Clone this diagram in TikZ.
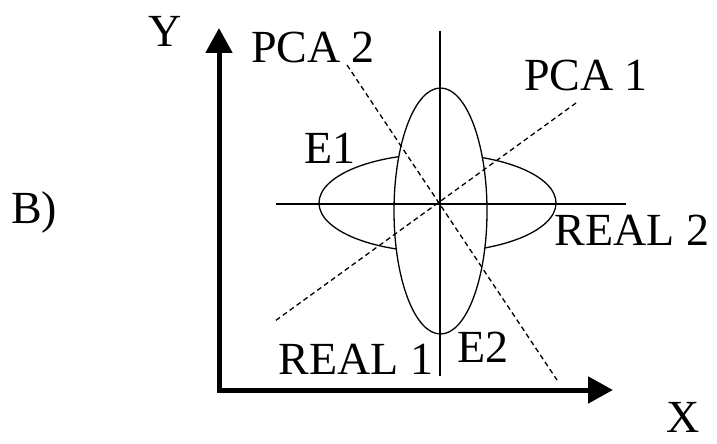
\documentclass[tikz,border=0pt]{standalone}
\usepackage{fontspec}
\setmainfont{Liberation Serif}
\usetikzlibrary{arrows.meta}
\begin{document}
\begin{tikzpicture}[x=1pt,y=-1pt,
  lbl/.style={inner sep=0pt, anchor=base, font=\fontsize{46}{50}\selectfont},
  thinline/.style={line width=1.3pt},
  dsh/.style={line width=1.3pt, dash pattern=on 5pt off 3.5pt},
  axis/.style={line width=5pt, line join=miter},
  tip/.tip={Triangle[length=25pt,width=26pt]}
]
\useasboundingbox (0,0) rectangle (717,444);
% axes
\coordinate (ytip) at (219,28);
\coordinate (corner) at (219,390);
\coordinate (xtip) at (613,390);
\draw[axis, tip-tip] (ytip) -- (corner) -- (xtip);
% ellipses
\draw[thinline] (437.5,203) ellipse [x radius=118.5, y radius=49];
\filldraw[thinline, fill=white] (440.5,211) ellipse [x radius=46.5, y radius=123];
% real axes
\coordinate (h1) at (276,204);
\coordinate (h2) at (626,204);
\coordinate (v1) at (440,31);
\coordinate (v2) at (440,376);
\draw[thinline] (h1) -- (h2);
\draw[thinline] (v1) -- (v2);
% PCA axes
\coordinate (p2a) at (347,65);
\coordinate (p2b) at (557,380);
\coordinate (p1a) at (576,103);
\coordinate (p1b) at (275,321);
\draw[dsh] (p2a) -- (p2b);
\draw[dsh] (p1a) -- (p1b);
% labels
\node[lbl] (ly) at (165,47) {Y};
\node[lbl] (lpca2) at (313,63) {PCA 2};
\node[lbl] (lpca1) at (586,90) {PCA 1};
\node[lbl] (le1) at (330,163) {E1};
\node[lbl] (lb) at (34,223) {B)};
\node[lbl] (lreal2) at (632,245) {REAL 2};
\node[lbl] (lreal1) at (356,374) {REAL 1};
\node[lbl] (le2) at (483,362) {E2};
\node[lbl] (lx) at (683,432) {X};
\end{tikzpicture}
\end{document}
